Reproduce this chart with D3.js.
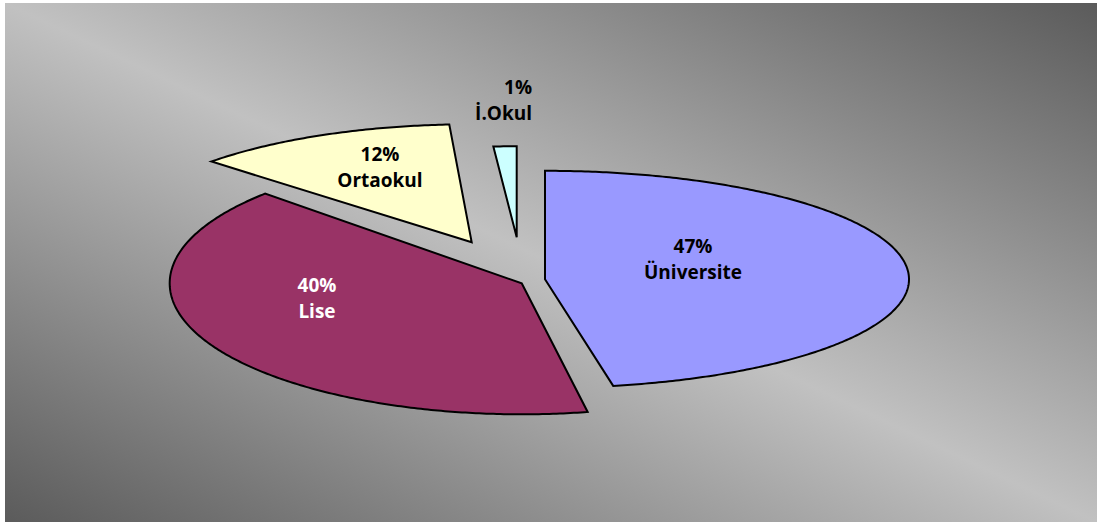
<!DOCTYPE html>
<html>
<head>
<meta charset="utf-8">
<script src="https://cdn.jsdelivr.net/npm/d3@7"></script>
<style>
  html, body { margin: 0; padding: 0; background: #ffffff; }
  svg { display: block; }
</style>
</head>
<body>
<svg id="chart" width="1103" height="528"></svg>
<script>
// ---- data ----
const categories = ["Üniversite", "Lise", "Ortaokul", "İ.Okul"];
const values = [47, 40, 12, 1];
const percentLabels = ["47%", "40%", "12%", "1%"];
const sliceColors = ["#9999FF", "#993366", "#FFFFCC", "#CCFFFF"];
const labelColors = ["#000000", "#ffffff", "#000000", "#000000"];

// ---- layout (exploded, tilted pie) ----
const W = 1103, H = 528;
const baseCx = 520, baseCy = 280;
const explodeDx = [25, 1.7, -48.3, -3.3];
const explodeDy = [-0.7, 3.3, -37.7, -42.7];
const sliceRx = [364, 352, 357, 372];
const sliceRy = [108.5, 131, 118, 91];
const labelX = [693, 317, 380, 532];
const labelY = [253, 292, 161, 94];
const labelAnchor = ["middle", "middle", "middle", "end"];

const svg = d3.select("#chart");

// background gradient
const defs = svg.append("defs");
const grad = defs.append("linearGradient")
  .attr("id", "bg").attr("x1", 0).attr("y1", 1).attr("x2", 1).attr("y2", 0);
grad.append("stop").attr("offset", 0).attr("stop-color", "#5b5b5b");
grad.append("stop").attr("offset", 0.5).attr("stop-color", "#c1c1c1");
grad.append("stop").attr("offset", 1).attr("stop-color", "#5b5b5b");

svg.append("rect").attr("x", 0).attr("y", 0).attr("width", W).attr("height", H).attr("fill", "#ffffff");
svg.append("rect").attr("x", 5).attr("y", 3).attr("width", 1092).attr("height", 519).attr("fill", "url(#bg)");

const pie = d3.pie().sort(null).value(d => d)(values);

function slicePath(d, i) {
  const ax = baseCx + explodeDx[i], ay = baseCy + explodeDy[i];
  const rx = sliceRx[i], ry = sliceRy[i];
  const n = Math.max(4, Math.ceil((d.endAngle - d.startAngle) / 0.01));
  const pts = [[ax, ay]];
  for (let k = 0; k <= n; k++) {
    const a = d.startAngle + (d.endAngle - d.startAngle) * k / n;
    pts.push([ax + rx * Math.sin(a), ay - ry * Math.cos(a)]);
  }
  return d3.line()(pts) + "Z";
}

svg.append("g").selectAll("path")
  .data(pie)
  .join("path")
  .attr("d", (d, i) => slicePath(d, i))
  .attr("fill", (d, i) => sliceColors[i])
  .attr("stroke", "#000")
  .attr("stroke-width", 2)
  .attr("stroke-linejoin", "miter");

const lg = svg.append("g")
  .attr("font-family", "'Century Gothic', 'Open Sans', Lato, sans-serif")
  .attr("font-weight", "bold")
  .attr("font-size", 19);

pie.forEach((d, i) => {
  const t = lg.append("text")
    .attr("x", labelX[i]).attr("y", labelY[i])
    .attr("text-anchor", labelAnchor[i])
    .attr("fill", labelColors[i]);
  t.append("tspan").attr("x", labelX[i]).attr("y", labelY[i]).text(percentLabels[i]);
  t.append("tspan").attr("x", labelX[i]).attr("y", labelY[i] + 26).text(categories[i]);
});
</script>
</body>
</html>
